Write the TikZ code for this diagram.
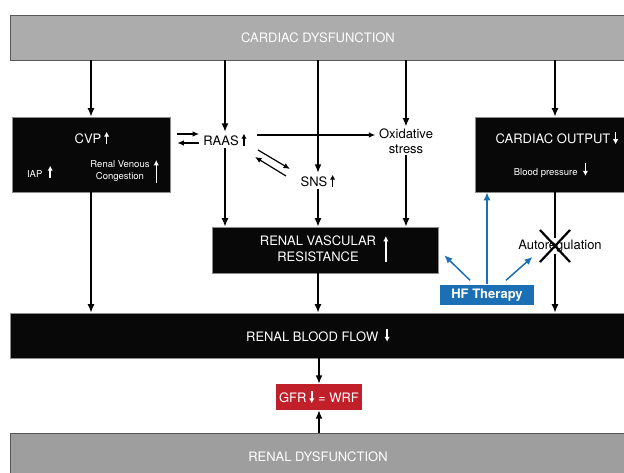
\documentclass[tikz,border=0pt]{standalone}
\usepackage{fontspec}
\setmainfont{TeX Gyre Heros}
\usepackage{tikz}
\usetikzlibrary{calc,arrows.meta}

\definecolor{boxgray}{HTML}{ACACAC}
\definecolor{boxgraydark}{HTML}{9E9E9E}
\definecolor{hfblue}{HTML}{1B6FB5}
\definecolor{gfrred}{HTML}{C1202B}

% small arrows inside the labels
\newcommand{\uparw}[1][12]{\hspace{2.5pt}\tikz[baseline=0pt]\draw[-{Latex[length=5pt,width=5.5pt]},line width=1.5pt] (0pt,-0.5pt) -- (0pt,#1pt);}
\newcommand{\dnarw}[1][12]{\hspace{2.5pt}\tikz[baseline=0pt]\draw[-{Latex[length=5pt,width=5.5pt]},line width=1.5pt] (0pt,#1pt) -- (0pt,-0.5pt);}

\begin{document}
\begin{tikzpicture}
            [x=1pt,y=-1pt,line width=1.5pt,>={Latex[length=8.5pt,width=7pt]},
             every node/.style={inner sep=1pt},
             graybox/.style={draw=black!65, line width=0.8pt, fill=boxgray, text=white, font=\fontsize{13}{15}\selectfont},
             blackbox/.style={draw=black!45, line width=0.6pt, fill=black!97, text=white, font=\fontsize{13}{15}\selectfont},
             lbl/.style={font=\fontsize{13}{15.5}\selectfont, align=center},
             biglbl/.style={font=\fontsize{13}{16}\selectfont, text=white, align=center},
             smalllbl/.style={font=\fontsize{9.5}{11.5}\selectfont, text=white, align=center},
             whitearw/.style={white, line width=1.5pt, -{Latex[length=5.5pt,width=5.5pt]}},
             hfarw/.style={hfblue, line width=1.5pt, -{Latex[length=8pt,width=7pt]}},
             pairarw/.style={->, line width=1.2pt, >={Latex[length=6.5pt,width=5.5pt]}}]
            \useasboundingbox (0,0) rectangle (624,473);

            % boxes
            \node[graybox, minimum width=616pt, minimum height=45pt] (cd) at (318,37.5) {CARDIAC DYSFUNCTION};
            \node[blackbox, minimum width=158pt, minimum height=75pt] (cvp) at (91,154.5) {};
            \node[blackbox, minimum width=160pt, minimum height=75pt] (co) at (555,154.5) {};
            \node[blackbox, minimum width=226pt, minimum height=46pt] (rvr) at (325,250) {};
            \node[blackbox, minimum width=616pt, minimum height=45pt] (rbf) at (318,335.5) {RENAL BLOOD FLOW\ \dnarw};
            \node[fill=gfrred, text=white, font=\fontsize{13}{15}\selectfont, minimum width=86pt, minimum height=26pt] (gfr) at (319,397) {GFR\dnarw\ = WRF};
            \node[graybox, fill=boxgraydark, minimum width=616pt, minimum height=47pt] (rd) at (318,456.5) {RENAL DYSFUNCTION};
            \node[fill=hfblue, text=white, font=\bfseries\fontsize{13}{15}\selectfont, minimum width=94pt, minimum height=20pt] (hf) at (487,295) {HF Therapy};

            % labels
            \node[biglbl] (cvplbl) at (92,138) {CVP\uparw};
            \node[smalllbl] (iap) at (40,172) {IAP\ \uparw[12]};
            \node[smalllbl] (rvc) at (120,171) {Renal Venous\\Congestion};
            \node[biglbl] (colbl) at (557,138) {CARDIAC OUTPUT\dnarw};
            \node[smalllbl] (bp) at (551,170) {Blood pressure\ \dnarw[12]};
            \node[biglbl] (rvrlbl) at (318,249) {RENAL VASCULAR\\RESISTANCE};
            \node[lbl] (raas) at (225,140) {RAAS\uparw};
            \node[lbl] (ox) at (406,141) {Oxidative\\stress};
            \node[lbl] (sns) at (318,181) {SNS\uparw};
            \node[lbl] (auto) at (560,246) {Autoregulation};

            \draw[whitearw] ($(rvc.east)+(5,12)$) -- ++(0,-23);
            \draw[whitearw] ($(rvrlbl.east)+(8,13)$) -- ++(0,-26);

            % from cardiac dysfunction
            \foreach \to in {cvp.north, raas.north, sns.north, ox.north, co.north}
            \draw[->] (cd.south -| \to) -- (\to);

            % into renal vascular resistance
            \foreach \from in {raas, sns, ox}
            \draw[->] (\from.south) -- (\from.south |- rvr.north);

            \draw[->] (cvp.south) -- (cvp.south |- rbf.north);
            \draw[->] (sns |- rvr.south) -- (sns |- rbf.north);
            \draw (co.south) -- (co.south |- auto.north);
            \draw[->] (co.south |- auto.south) -- (co.south |- rbf.north);
            \draw[->] (rbf.south -| gfr) -- (gfr.north);
            \draw[->] (rd.north -| gfr) -- (gfr.south);

            % cvp <-> raas <-> sns
            \draw[pairarw] ($(cvp.east)+(7,-20.5)$) -- ($(raas.west)+(-3,-6)$);
            \draw[pairarw] ($(raas.west)+(-3,3)$) -- ($(cvp.east)+(7,-11.5)$);
            \draw[pairarw] ($(raas)+(33,10)$) -- ($(sns)+(-28,-12)$);
            \draw[pairarw] ($(sns)+(-32,-5)$) -- ($(raas)+(30,17)$);

            \coordinate (rs) at ($(raas.east)+(9,-5)$);
            \draw[pairarw] (rs) -- ($(rs -| ox.west)+(-2,0)$);

            % autoregulation crossed out
            \coordinate (xc) at (co.south |- auto);
            \draw[line width=2.2pt] ($(xc)+(-15,-16)$) -- ($(xc)+(15,16)$)
                                  ($(xc)+(15,-16)$) -- ($(xc)+(-15,16)$);

            % hf therapy
            \draw[hfarw] (hf.north) -- (hf.north |- co.south);
            \draw[hfarw] ($(hf.north)+(-17,-4)$) -- ($(rvr.south east)+(6,-18)$);
            \draw[hfarw] ($(hf.north)+(19,-4)$) -- ($(auto.south west)+(16,3)$);
          \end{tikzpicture}
\end{document}
